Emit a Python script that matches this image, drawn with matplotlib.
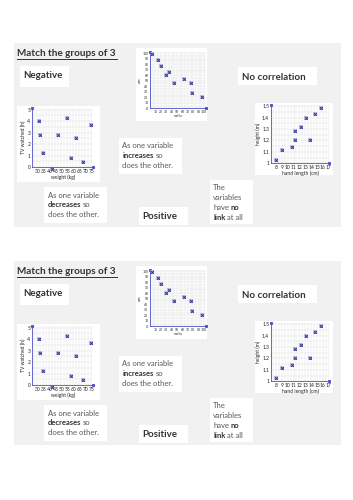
import numpy as np
import matplotlib
matplotlib.use('Agg')
import matplotlib.pyplot as plt
from matplotlib.patches import Rectangle
from matplotlib.lines import Line2D
from matplotlib.ticker import MultipleLocator

plt.rcParams['font.family'] = ['Lato', 'DejaVu Sans']

W, H = 353, 500

# scatter 1: TV watched vs weight
weight = [31, 32.5, 35, 42.5, 47, 55, 58, 62, 68, 75]
tv_hours = [4.05, 2.75, 1.2, -0.2, 2.75, 4.25, 0.8, 2.5, 0.4, 3.7]
weight_ticks = [30, 35, 40, 45, 50, 55, 60, 65, 70, 75]
tv_ticks = [0, 1, 2, 3, 4, 5]

# scatter 2: arts vs maths
maths = [4, 15, 20, 29, 35, 45, 62, 75, 78, 97]
arts = [98, 87, 76, 61, 66, 45, 53, 46, 28, 20]
maths_ticks = [10, 20, 30, 40, 50, 60, 70, 80, 90, 100]
arts_ticks = [0, 10, 20, 30, 40, 50, 60, 70, 80, 90, 100]

# scatter 3: height vs hand length
hand = [8, 9, 10.7, 11.2, 11.2, 12.2, 13.1, 13.8, 14.7, 15.7]
height = [1.03, 1.12, 1.14, 1.2, 1.28, 1.32, 1.4, 1.2, 1.43, 1.48]
hand_ticks = [8, 9, 10, 11, 12, 13, 14, 15, 16, 17]
height_ticks = [1, 1.1, 1.2, 1.3, 1.4, 1.5]

title = 'Match the groups of 3'
label_words = ['Negative', 'No correlation', 'Positive']

fig = plt.figure(figsize=(W / 100, H / 100), dpi=100)
renderer = fig.canvas.get_renderer()

TEXT_GREY = '#595959'
DARK = '#333333'
AXIS_BLUE = '#5050c8'
MARK = '#2e2e90'


def fx(x):
  return x / W


def fy(y):
  return 1 - y / H


def box(x0, y0, x1, y1, color):
  fig.patches.append(Rectangle((fx(x0), fy(y1)), (x1 - x0) / W, (y1 - y0) / H,
                               transform=fig.transFigure, facecolor=color,
                               edgecolor='none', zorder=-1))


def text_line(x, y, parts, size, color):
  t0 = fig.text(0, 0, 'a a', fontsize=size)
  t1 = fig.text(0, 0, 'aa', fontsize=size)
  space = t0.get_window_extent(renderer).width - t1.get_window_extent(renderer).width
  t0.remove()
  t1.remove()
  for s, bold in parts:
    t = fig.text(fx(x), fy(y), s, fontsize=size, color=DARK if bold else color,
                 fontweight='bold' if bold else 'normal', va='center', ha='left')
    x += t.get_window_extent(renderer).width + space


def scatter(rect, xs, ys, xticks, yticks, xlim, ylim, xlabel, ylabel, fs, xminor, yminor):
  x0, y0, x1, y1 = rect
  ax = fig.add_axes([fx(x0), fy(y1), (x1 - x0) / W, (y1 - y0) / H])
  ax.patch.set_alpha(0)
  ax.set_xlim(*xlim)
  ax.set_ylim(*ylim)
  ax.set_xticks(xticks)
  ax.set_yticks(yticks)
  ax.set_xticklabels([('%g' % v) for v in xticks])
  ax.set_yticklabels([('%g' % v) for v in yticks])
  ax.xaxis.set_minor_locator(MultipleLocator(xminor))
  ax.yaxis.set_minor_locator(MultipleLocator(yminor))
  ax.grid(which='both', color='#e2e2e2', lw=0.35)
  ax.set_axisbelow(True)
  ax.tick_params(which='both', length=0, labelsize=fs, pad=1.2, colors='#222222')
  for s in ['top', 'right']:
    ax.spines[s].set_visible(False)
  for s in ['left', 'bottom']:
    ax.spines[s].set_color(AXIS_BLUE)
    ax.spines[s].set_linewidth(0.6)
  ax.plot([xlim[0]], [ylim[1]], marker='s', ms=1.2, color=AXIS_BLUE, clip_on=False)
  ax.plot([xlim[1]], [ylim[0]], marker='s', ms=1.2, color=AXIS_BLUE, clip_on=False)
  ax.plot(xs, ys, ls='none', marker='s', ms=2.4, mew=0, color='#b8b8e6', clip_on=False)
  ax.plot(xs, ys, ls='none', marker='x', ms=1.9, mew=0.7, color=MARK, clip_on=False)
  ax.set_xlabel(xlabel, fontsize=fs, labelpad=0.3, color='#222222')
  ax.set_ylabel(ylabel, fontsize=fs, labelpad=0.6, color='#222222')
  return ax


def sheet(o):
  box(14, 43 + o, 341, 227 + o, '#f1f1f1')

  # title
  fig.text(fx(17), fy(53 + o), title, fontsize=7.2, fontweight='bold', color=DARK,
           va='center', ha='left')
  fig.lines.append(Line2D([fx(17), fx(117)], [fy(58.5 + o)] * 2, transform=fig.transFigure,
                          color=DARK, lw=0.7))

  # word boxes
  box(20, 66 + o, 69, 87 + o, 'white')
  fig.text(fx(23.3), fy(76 + o), label_words[0], fontsize=7, fontweight='bold',
           color=DARK, va='center')
  box(238, 67 + o, 317, 85 + o, 'white')
  fig.text(fx(241.7), fy(77 + o), label_words[1], fontsize=7, fontweight='bold',
           color=DARK, va='center')
  box(139, 207 + o, 188, 225 + o, 'white')
  fig.text(fx(142.7), fy(216.7 + o), label_words[2], fontsize=7, fontweight='bold',
           color=DARK, va='center')

  # description boxes
  box(119, 138 + o, 182, 174 + o, 'white')
  text_line(122.3, 146 + o, [('As one variable', False)], 5.5, TEXT_GREY)
  text_line(122.3, 155.7 + o, [('increases', True), ('so', False)], 5.5, TEXT_GREY)
  text_line(122.3, 165.5 + o, [('does the other.', False)], 5.5, TEXT_GREY)

  box(44, 187 + o, 107, 223 + o, 'white')
  text_line(47.7, 195 + o, [('As one variable', False)], 5.5, TEXT_GREY)
  text_line(47.7, 204.7 + o, [('decreases', True), ('so', False)], 5.5, TEXT_GREY)
  text_line(47.7, 214.3 + o, [('does the other.', False)], 5.5, TEXT_GREY)

  box(210, 180 + o, 253, 224 + o, 'white')
  text_line(213, 187.7 + o, [('The', False)], 5.5, TEXT_GREY)
  text_line(213, 197.7 + o, [('variables', False)], 5.5, TEXT_GREY)
  text_line(213, 207.8 + o, [('have', False), ('no', True)], 5.5, TEXT_GREY)
  text_line(213, 217.8 + o, [('link', True), ('at all', False)], 5.5, TEXT_GREY)

  # scatter charts
  box(17, 106 + o, 100, 182 + o, 'white')
  scatter((32, 108 + o, 93.3, 167 + o), weight, tv_hours, weight_ticks, tv_ticks,
          (25.5, 76.5), (0, 5.15), 'weight (kg)', 'TV watched (h)', 3.6, 2.5, 0.5)

  box(136, 48 + o, 207, 121 + o, 'white')
  scatter((150, 52 + o, 205.7, 108.3 + o), maths, arts, maths_ticks, arts_ticks,
          (0, 103), (0, 102), 'maths', 'arts', 2.4, 5, 5)

  box(255, 103 + o, 333, 175 + o, 'white')
  scatter((270.7, 105 + o, 329.3, 163.3 + o), hand, height, hand_ticks, height_ticks,
          (7.1, 17.1), (1.0, 1.51), 'hand length (cm)', 'height (m)', 3.6, 0.5, 0.05)


sheet(0)
sheet(218)

fig.savefig('out.png', dpi=100, facecolor='white')
